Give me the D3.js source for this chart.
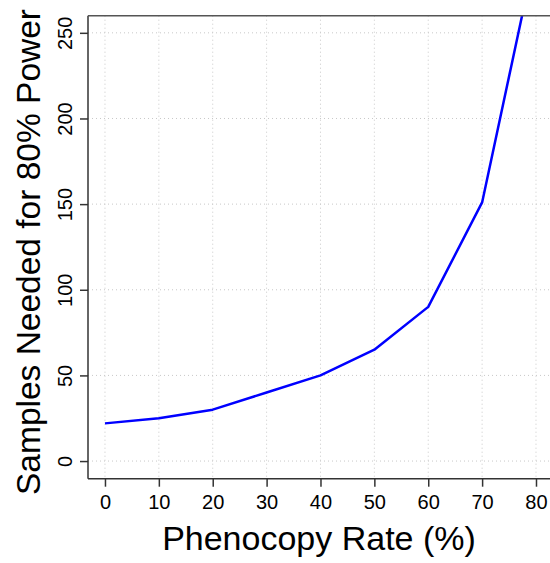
<!DOCTYPE html>
<html>
<head>
  <meta charset="utf-8">
  <title>Samples needed vs phenocopy rate</title>
  <script src="https://cdn.jsdelivr.net/npm/d3@7"></script>
  <style type="text/css">
  body { margin: 0; background: #fff; }
  text { font-family: "Liberation Sans", Arial, sans-serif; fill: #000; }
  .grid line { stroke: #c8c8c8; stroke-width: 1; stroke-dasharray: 1,3; }
  .axis path, .axis line { stroke: #333; stroke-width: 1.5; }
  .frame { stroke: #555; stroke-width: 1.5; fill: none; }
  .series { fill: none; stroke: #0000ff; stroke-width: 2.5; stroke-linejoin: round; }
  </style>
</head>
<body>
<div id="chart"></div>
<script>
var width = 550,
    height = 563;

// data
var phenocopy = [0, 10, 20, 30, 40, 50, 60, 70, 80];
var samples   = [22, 25, 30, 40, 50, 65, 90, 151, 298];

var xTicks = [0, 10, 20, 30, 40, 50, 60, 70, 80];
var yTicks = [0, 50, 100, 150, 200, 250];

var plot = {left: 88, right: 550, top: 15.7, bottom: 478.7};

var x = d3.scaleLinear()
          .domain([-3.15, 82.6])
          .range([plot.left, plot.right]);

var y = d3.scaleLinear()
          .domain([-10.3, 260])
          .range([plot.bottom, plot.top]);

var svg = d3.select("#chart").append("svg")
            .attr("width", width)
            .attr("height", height);

svg.append("defs").append("clipPath")
   .attr("id", "clip")
   .append("rect")
   .attr("x", plot.left)
   .attr("y", plot.top)
   .attr("width", plot.right - plot.left)
   .attr("height", plot.bottom - plot.top);

/* dotted grid */
var grid = svg.append("g").attr("class", "grid");
grid.selectAll(".vx").data(xTicks).enter().append("line")
    .attr("x1", function(d) { return x(d); })
    .attr("x2", function(d) { return x(d); })
    .attr("y1", plot.top)
    .attr("y2", plot.bottom);
grid.selectAll(".hy").data(yTicks).enter().append("line")
    .attr("x1", plot.left)
    .attr("x2", plot.right)
    .attr("y1", function(d) { return y(d); })
    .attr("y2", function(d) { return y(d); });

/* the curve */
var line = d3.line()
             .x(function(d, i) { return x(phenocopy[i]); })
             .y(function(d) { return y(d); });

svg.append("path")
   .datum(samples)
   .attr("class", "series")
   .attr("clip-path", "url(#clip)")
   .attr("d", line);

/* axes */
var xAxis = svg.append("g")
   .attr("class", "axis")
   .attr("transform", "translate(0," + plot.bottom + ")")
   .call(d3.axisBottom(x).tickValues(xTicks).tickSize(8).tickSizeOuter(0).tickPadding(8.4));
xAxis.selectAll("text").style("font-size", "20px");

var yAxis = svg.append("g")
   .attr("class", "axis")
   .attr("transform", "translate(" + plot.left + ",0)")
   .call(d3.axisLeft(y).tickValues(yTicks).tickSize(8).tickSizeOuter(0).tickPadding(0));
yAxis.selectAll("text")
     .style("font-size", "20px")
     .attr("text-anchor", "middle")
     .attr("dy", null)
     .attr("x", null)
     .attr("transform", "translate(-16,0) rotate(-90)");

svg.selectAll(".axis .domain").remove();

// axis lines + top border
svg.append("line").attr("class", "frame")
   .attr("x1", plot.left).attr("x2", plot.left)
   .attr("y1", plot.top).attr("y2", plot.bottom)
   .style("stroke", "#333");
svg.append("line").attr("class", "frame")
   .attr("x1", plot.left).attr("x2", plot.right)
   .attr("y1", plot.bottom).attr("y2", plot.bottom)
   .style("stroke", "#333");
svg.append("line").attr("class", "frame")
   .attr("x1", plot.left).attr("x2", plot.right)
   .attr("y1", plot.top).attr("y2", plot.top);

/* titles */
svg.append("text")
   .attr("x", (plot.left + plot.right) / 2)
   .attr("y", 550)
   .attr("text-anchor", "middle")
   .style("font-size", "34px")
   .text("Phenocopy Rate (%)");

svg.append("text")
   .attr("transform", "translate(40," + 252 + ") rotate(-90)")
   .attr("text-anchor", "middle")
   .style("font-size", "33.5px")
   .text("Samples Needed for 80% Power");
</script>
</body>
</html>
